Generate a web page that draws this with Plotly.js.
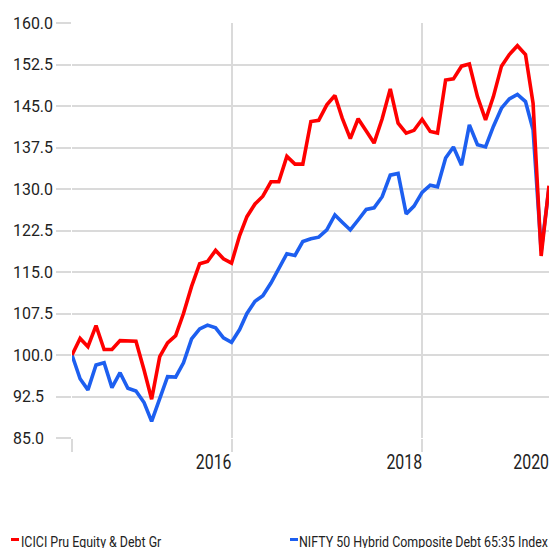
<!DOCTYPE html>
<html>
<head>
<meta charset="utf-8">
<script src="https://cdn.plot.ly/plotly-3.0.1.min.js"></script>
<style>
  html, body { margin: 0; padding: 0; background: #ffffff; }
  #chart { width: 549px; height: 548px; }
</style>
</head>
<body>
<div id="chart"></div>
<script>
// Month-end values plotted at the start of the following month
const months = [
  "2015-05","2015-06","2015-07","2015-08","2015-09","2015-10","2015-11","2015-12",
  "2016-01","2016-02","2016-03","2016-04","2016-05","2016-06","2016-07","2016-08","2016-09","2016-10","2016-11","2016-12",
  "2017-01","2017-02","2017-03","2017-04","2017-05","2017-06","2017-07","2017-08","2017-09","2017-10","2017-11","2017-12",
  "2018-01","2018-02","2018-03","2018-04","2018-05","2018-06","2018-07","2018-08","2018-09","2018-10","2018-11","2018-12",
  "2019-01","2019-02","2019-03","2019-04","2019-05","2019-06","2019-07","2019-08","2019-09","2019-10","2019-11","2019-12",
  "2020-01","2020-02","2020-03","2020-04","2020-05"
];

const fundName = "ICICI Pru Equity & Debt Gr";
const indexName = "NIFTY 50 Hybrid Composite Debt 65:35 Index";

const fundValues = [
  100.0, 103.0, 101.5, 105.3, 101.0, 101.0, 102.6, 102.5, 102.5, 97.3,
  92.0, 99.7, 102.2, 103.5, 107.5, 112.4, 116.5, 116.9, 118.9, 117.4,
  116.6, 121.6, 125.0, 127.3, 128.7, 131.3, 131.3, 135.9, 134.5, 134.5,
  142.2, 142.4, 145.2, 146.9, 142.8, 139.1, 142.7, 140.5, 138.3, 142.7,
  148.1, 141.9, 140.1, 140.6, 142.6, 140.4, 140.1, 149.7, 149.9, 152.2,
  152.6, 146.7, 142.5, 146.7, 152.2, 154.3, 155.9, 154.3, 145.5, 117.9,
  130.6
];

const indexValues = [
  100.0, 95.7, 93.7, 98.2, 98.6, 94.1, 96.8, 94.0, 93.5, 91.4,
  88.0, 92.0, 96.1, 96.0, 98.6, 102.9, 104.7, 105.4, 104.9, 103.1,
  102.3, 104.6, 107.5, 109.7, 110.7, 113.0, 115.5, 118.3, 118.0, 120.5,
  121.0, 121.3, 122.6, 125.3, 124.0, 122.6, 124.4, 126.3, 126.6, 128.6,
  132.5, 132.8, 125.5, 126.9, 129.4, 130.7, 130.4, 135.6, 137.6, 134.3,
  141.6, 138.0, 137.6, 141.3, 144.6, 146.3, 147.1, 145.8, 140.7, 118.8,
  130.2
];

const yTickVals = [85, 92.5, 100, 107.5, 115, 122.5, 130, 137.5, 145, 152.5, 160];
const yTickText = ["85.0", "92.5", "100.0", "107.5", "115.0", "122.5", "130.0", "137.5", "145.0", "152.5", "160.0"];

const xGridVals = ["2015-05-01", "2017-01-01", "2019-01-01"];
const xLabelVals = ["2017-01-01", "2019-01-01", "2020-05-01"];
const xLabelText = ["2016", "2018", "2020"];

const xRange = ["2015-05-01", "2020-05-01"];

const RED = "#ff0000";
const BLUE = "#1d5ff0";
const GRID = "#dadada";
const TEXT = "#222222";
const FONT = "Roboto, 'Liberation Sans', sans-serif";

const traces = [
  {
    type: "scatter", mode: "lines", name: indexName,
    x: months, y: indexValues,
    line: { color: BLUE, width: 3.6 },
    hoverinfo: "skip"
  },
  {
    type: "scatter", mode: "lines", name: fundName,
    x: months, y: fundValues,
    line: { color: RED, width: 3.6 },
    hoverinfo: "skip"
  },
  {
    type: "scatter", mode: "lines", x: [], y: [], xaxis: "x2", yaxis: "y",
    showlegend: false, hoverinfo: "skip"
  }
];

// pixel helpers for the legend placed under the plot
const PL = 72, PW = 477, PT = 23, PH = 415;
const px = v => (v - PL) / PW;
const py = v => (PT + PH - v) / PH;

const layout = {
  width: 549, height: 548,
  margin: { l: PL, r: 0, t: PT, b: 548 - PT - PH, pad: 0 },
  paper_bgcolor: "#ffffff", plot_bgcolor: "#ffffff",
  showlegend: false,
  xaxis: {
    type: "date", range: xRange, autorange: false,
    tickmode: "array", tickvals: xGridVals,
    showticklabels: false,
    ticks: "outside", ticklen: 13, tickwidth: 2, tickcolor: GRID,
    showgrid: true, gridcolor: GRID, gridwidth: 2,
    zeroline: false, showline: false, fixedrange: true
  },
  xaxis2: {
    type: "date", range: xRange, autorange: false,
    overlaying: "x", anchor: "y", side: "bottom",
    tickmode: "array", tickvals: xLabelVals, ticktext: xLabelText,
    ticks: "", showgrid: false, zeroline: false, showline: false,
    ticklabelposition: "outside left", ticklabelstandoff: 10,
    tickfont: { family: FONT, size: 20, color: TEXT }
  },
  yaxis: {
    range: [85, 160], autorange: false,
    tickmode: "array", tickvals: yTickVals, ticktext: yTickText,
    ticks: "outside", ticklen: 15, tickwidth: 2, tickcolor: GRID,
    showgrid: true, gridcolor: GRID, gridwidth: 2,
    zeroline: false, showline: false, fixedrange: true,
    ticklabelposition: "inside", ticklabelstandoff: -62, ticklabeloverflow: "allow",
    tickfont: { family: FONT, size: 17, color: TEXT }
  },
  shapes: [
    { type: "rect", xref: "paper", yref: "paper", x0: px(11), x1: px(19), y0: py(538), y1: py(541),
      fillcolor: RED, line: { width: 0 } },
    { type: "rect", xref: "paper", yref: "paper", x0: px(290), x1: px(298), y0: py(538), y1: py(541),
      fillcolor: BLUE, line: { width: 0 } }
  ],
  annotations: [
    { xref: "paper", yref: "paper", x: px(19), y: py(541.5), xanchor: "left", yanchor: "middle", align: "left",
      text: fundName, showarrow: false, font: { family: FONT, size: 14, color: TEXT } },
    { xref: "paper", yref: "paper", x: px(297), y: py(541.5), xanchor: "left", yanchor: "middle", align: "left",
      text: indexName, showarrow: false, font: { family: FONT, size: 14, color: TEXT } }
  ]
};

// Condense text horizontally (the reference uses a condensed face)
function squeeze(selector, factor) {
  document.querySelectorAll(selector).forEach(t => {
    const w = t.getComputedTextLength();
    if (w > 0) {
      t.setAttribute("textLength", (w * factor).toFixed(2));
      t.setAttribute("lengthAdjust", "spacingAndGlyphs");
    }
  });
}
function widthOf(selector, text) {
  let w = 0;
  document.querySelectorAll(selector).forEach(t => { if (t.textContent === text) w = t.getComputedTextLength(); });
  return w;
}

Plotly.newPlot("chart", traces, layout, { staticPlot: true, displayModeBar: false }).then(() => {
  const wx = widthOf(".x2tick text", "2016");
  if (wx > 0) squeeze(".x2tick text", 35.7 / wx);
  const wy = widthOf(".ytick text", "100.0");
  if (wy > 0) squeeze(".ytick text", 40 / wy);
  const wl = widthOf(".annotation-text", indexName);
  if (wl > 0) squeeze(".annotation-text", 249 / wl);
});
</script>
</body>
</html>
